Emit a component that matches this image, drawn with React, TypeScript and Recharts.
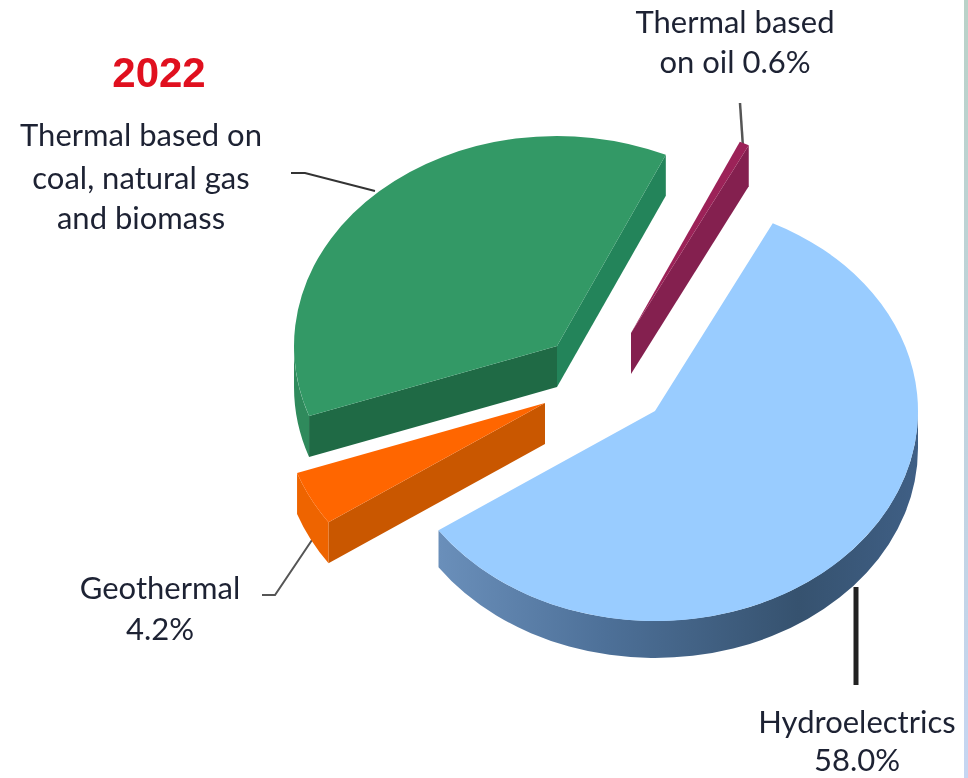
import { Pie, PieChart } from "recharts";

// energy mix, share of installed capacity (%)
const categories = [
  "Hydroelectrics",
  "Geothermal",
  "Thermal based on coal, natural gas and biomass",
  "Thermal based on oil",
];
const shares = [58.0, 4.2, 37.2, 0.6];

const tableData = categories.map((name, i) => ({ name, value: shares[i] }));

const W = 968;
const H = 778;
const CX = 600;
const CY = 380;
const RX = 263;
const RY = 210;
const FONT = "Lato, 'Open Sans', sans-serif";

// how far each slice is pulled out of the pie, its thickness and its colours.
// wallA / wallB are the two cut faces, left out when the top hides them
const sliceLook: Record<string, any> = {
  Hydroelectrics: { dx: 55, dy: 31, depth: 37, top: "#99ccff", wall: "url(#hydroWall)" },
  Geothermal: { dx: -55, dy: 23, depth: 41, top: "#ff6600", wall: "#ee6400", wallA: "#c95700" },
  "Thermal based on coal, natural gas and biomass": { dx: -43, dy: -34, depth: 41, top: "#339966", wall: "#2f8a5c", wallA: "#1f6a45", wallB: "#23845a" },
  "Thermal based on oil": { dx: 31, dy: -47, depth: 41, top: "#9c2258", wall: "#84204f", wallB: "#84204f" },
};

function pt(cx: number, cy: number, angle: number) {
  const a = (angle * Math.PI) / 180;
  return [cx + RX * Math.cos(a), cy - RY * Math.sin(a)];
}

function Slice3D(props: any) {
  const { startAngle, endAngle, cx, cy, name } = props;
  const look = sliceLook[name];
  const x = cx + look.dx;
  const y = cy + look.dy;
  const d = look.depth;
  const [sx, sy] = pt(x, y, startAngle);
  const [ex, ey] = pt(x, y, endAngle);
  const large = startAngle - endAngle > 180 ? 1 : 0;

  // outer wall only shows on the front half of the ellipse
  const from = Math.min(startAngle, 0);
  const to = Math.max(endAngle, -180);
  let outer = null;
  if (from > to) {
    const [ax, ay] = pt(x, y, from);
    const [bx, by] = pt(x, y, to);
    outer = (
      <path
        d={`M${ax},${ay} A${RX},${RY} 0 0 1 ${bx},${by} L${bx},${by + d} A${RX},${RY} 0 0 0 ${ax},${ay + d} Z`}
        fill={look.wall}
      />
    );
  }

  return (
    <g>
      {look.wallB && <path d={`M${x},${y} L${ex},${ey} L${ex},${ey + d} L${x},${y + d} Z`} fill={look.wallB} />}
      {look.wallA && <path d={`M${x},${y} L${sx},${sy} L${sx},${sy + d} L${x},${y + d} Z`} fill={look.wallA} />}
      {outer}
      <path
        d={`M${x},${y} L${sx},${sy} A${RX},${RY} 0 ${large} 1 ${ex},${ey} Z`}
        fill={look.top}
      />
    </g>
  );
}

function Label({ x, lines }: { x: number; lines: [string, number][] }) {
  return (
    <>
      {lines.map(([t, y]) => (
        <text key={t} x={x} y={y} textAnchor="middle" fontFamily={FONT} fontSize={31} fill="#1d2233">
          {t}
        </text>
      ))}
    </>
  );
}

export default function App() {
  return (
    <div style={{ position: "absolute", left: 0, top: 0, width: W, height: H, background: "#fff", overflow: "hidden" }}>
      <div style={{ filter: "blur(0.6px)" }}>
        <PieChart width={W} height={H} margin={{ top: 0, right: 0, bottom: 0, left: 0 }}>
          <defs>
            <linearGradient id="hydroWall" x1="0" y1="0" x2="1" y2="0">
              <stop offset="0" stopColor="#6a8fba" />
              <stop offset="0.35" stopColor="#4d7098" />
              <stop offset="0.75" stopColor="#36526f" />
              <stop offset="1" stopColor="#3f5f85" />
            </linearGradient>
          </defs>
          <Pie
            data={tableData}
            dataKey="value"
            nameKey="name"
            cx={CX}
            cy={CY}
            outerRadius={RX}
            startAngle={63.4}
            endAngle={-296.6}
            shape={Slice3D}
            isAnimationActive={false}
            label={false}
            labelLine={false}
          />
          <text x={159} y={87} textAnchor="middle" fontFamily="'Liberation Sans', Arial, sans-serif" fontWeight="bold" fontSize={42} fill="#e0101f">
            2022
          </text>
          <Label x={141} lines={[["Thermal based on", 146], ["coal, natural gas", 189], ["and biomass", 229]]} />
          <Label x={735} lines={[["Thermal based", 33], ["on oil 0.6%", 73]]} />
          <Label x={160} lines={[["Geothermal", 599], ["4.2%", 640]]} />
          <Label x={857} lines={[["Hydroelectrics", 733], ["58.0%", 771]]} />
          <polyline points="291,173 305,173 375,191" fill="none" stroke="#333" strokeWidth={2} />
          <polyline points="740,103 743,147" fill="none" stroke="#555" strokeWidth={2.5} />
          <polyline points="262,595 275,595 312,540" fill="none" stroke="#555" strokeWidth={2} />
          <polyline points="856,587 856,685" fill="none" stroke="#222" strokeWidth={5} />
        </PieChart>
      </div>
      <div
        style={{
          position: "absolute",
          left: 964,
          top: 0,
          width: 4,
          height: H,
          background: "linear-gradient(#b9d2c8, #c6d6f2)",
        }}
      />
    </div>
  );
}
